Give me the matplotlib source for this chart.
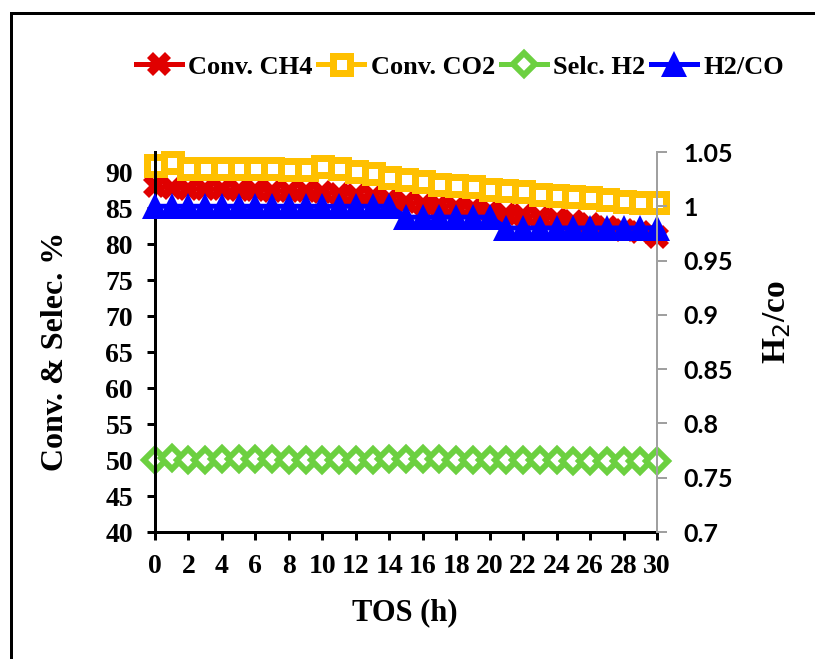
import numpy as np
import matplotlib.pyplot as plt
from matplotlib.patches import Rectangle

# time on stream (h)
tos = list(range(31))

conv_ch4 = [88.0, 87.8, 87.7, 87.6, 87.6, 87.5, 87.5, 87.4, 87.3, 87.3, 87.2,
            87.0, 86.8, 86.6, 86.2, 85.8, 85.6, 85.4, 85.2, 85.0, 84.6,
            84.2, 84.0, 83.8, 83.5, 83.2, 82.8, 82.4, 82.0, 81.6, 81.0]
conv_co2 = [91.0, 91.4, 90.5, 90.5, 90.5, 90.5, 90.5, 90.5, 90.4, 90.4, 90.8,
            90.5, 90.2, 89.8, 89.3, 89.0, 88.7, 88.4, 88.2, 88.0, 87.7,
            87.5, 87.3, 87.0, 86.8, 86.7, 86.5, 86.3, 86.0, 85.8, 85.8]
selc_h2 = [50.0, 50.3, 50.0, 50.0, 50.2, 50.2, 50.2, 50.1, 50.0, 50.0, 50.0,
           50.0, 50.0, 50.0, 50.1, 50.2, 50.2, 50.2, 50.0, 50.0, 50.0,
           50.0, 50.0, 50.0, 50.0, 49.9, 49.9, 49.9, 49.8, 49.8, 49.8]
h2_co = [1.0] * 15 + [0.99] * 6 + [0.98] * 10

left_ticks = [40, 45, 50, 55, 60, 65, 70, 75, 80, 85, 90]
right_ticks = [0.7, 0.75, 0.8, 0.85, 0.9, 0.95, 1.0, 1.05]
right_labels = ["0.7", "0.75", "0.8", "0.85", "0.9", "0.95", "1", "1.05"]
x_ticks = list(range(0, 31, 2))

serif = "Liberation Serif"
px = 72 / 100  # points per pixel at dpi 100

fig = plt.figure(figsize=(8.15, 6.59), dpi=100)
ax = fig.add_axes([155 / 815, 1 - 532 / 659, 502 / 815, 380 / 659])
ax2 = ax.twinx()

l1, = ax.plot(tos, conv_ch4, color="#e00000", lw=5 * px, marker="X",
              ms=24 * px, mew=0, clip_on=False, label="Conv. CH4")
l2, = ax.plot(tos, conv_co2, color="#ffc000", lw=5 * px, marker="s",
              ms=17 * px, mew=7 * px, mfc="white", clip_on=False,
              label="Conv. CO2")
l3, = ax.plot(tos, selc_h2, color="#6cd040", lw=5 * px, marker="D",
              ms=15 * px, mew=6 * px, mfc="white", clip_on=False,
              label="Selc. H2")
l4, = ax2.plot(tos, h2_co, color="#0000ff", lw=5 * px, marker="^",
               ms=27 * px, mew=0, clip_on=False, label="H2/CO")

ax.set_xlim(0, 30)
ax.set_ylim(40, 40 + 380 / 7.2)
ax2.set_ylim(0.7, 1.05)

ax.set_xticks(x_ticks)
ax.set_yticks(left_ticks)
ax2.set_yticks(right_ticks)
ax2.set_yticklabels(right_labels)

for a in (ax, ax2):
    a.spines["top"].set_visible(False)
ax.spines["right"].set_visible(False)
ax2.spines["left"].set_visible(False)
ax2.spines["bottom"].set_visible(False)
ax.spines["left"].set_linewidth(3 * px)
ax.spines["bottom"].set_linewidth(3 * px)
ax2.spines["right"].set_color("#a0a0a0")
ax2.spines["right"].set_linewidth(2 * px)

ax.tick_params(axis="both", direction="out", length=8 * px, width=3 * px,
               colors="black", labelsize=20, pad=10)
ax2.tick_params(axis="y", direction="out", length=10 * px, width=2 * px,
                color="#a0a0a0", labelcolor="black", labelsize=18, pad=12)

for lab in ax.get_xticklabels() + ax.get_yticklabels():
    lab.set_fontfamily(serif)
    lab.set_fontweight("bold")
for lab in ax2.get_yticklabels():
    lab.set_fontfamily("Lato")
    lab.set_fontweight("bold")

ax.set_xlabel("TOS (h)", fontsize=22, fontweight="bold", family=serif,
              va="center")
ax.xaxis.set_label_coords(0.498, -0.213)
ax.set_ylabel("Conv. & Selec. %", fontsize=23, fontweight="bold",
              family=serif, va="center", ha="center")
ax.yaxis.set_label_coords(-0.199, 0.476)
ax2.set_ylabel("H$_2$/co", fontsize=24, fontweight="bold", family=serif,
               va="center", ha="center")
ax2.yaxis.set_label_coords(1.239, 0.553)

fig.legend(handles=[l1, l2, l3, l4], loc="center",
           bbox_to_anchor=(460 / 815, 1 - 67 / 659), ncol=4, frameon=False,
           prop={"family": serif, "weight": "bold", "size": 19},
           handlelength=1.75, handletextpad=0.25, columnspacing=0.2)

# outer frame around the figure
fig.add_artist(Rectangle((11 / 815, -0.1), 2, 1 - 13 / 659 + 0.1,
                         transform=fig.transFigure, fill=False,
                         ec="black", lw=3 * px))

fig.savefig("out.png", dpi=100)
